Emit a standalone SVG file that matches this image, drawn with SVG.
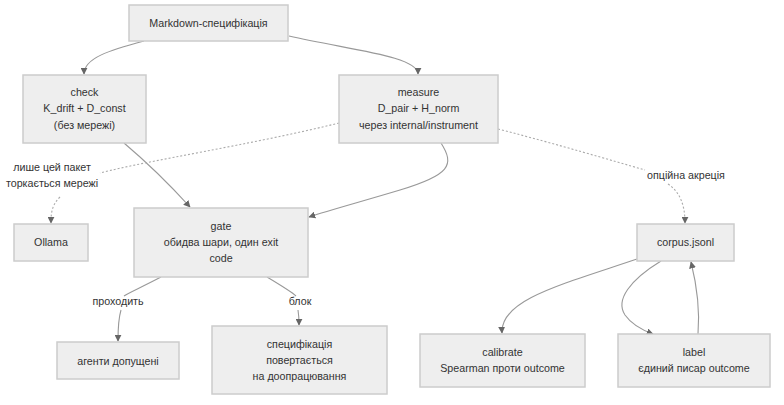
<svg xmlns="http://www.w3.org/2000/svg" width="784" height="405" viewBox="0 0 784 405">
<defs>
<marker id="arr" viewBox="0 0 10 10" refX="9" refY="5" markerWidth="7" markerHeight="7" markerUnits="userSpaceOnUse" orient="auto">
<path d="M0,0 L10,5 L0,10 z" fill="#666"/>
</marker>
</defs>
<style>
.n rect{fill:#eeeeee;stroke:#cccccc;stroke-width:1.5}
text{font-family:"Liberation Sans",Arial,sans-serif;font-size:10.7px;fill:#333;text-anchor:middle}
.e{fill:none;stroke:#999;stroke-width:1.1}
.d{stroke-dasharray:2,2;stroke:#aaa}
</style>
<rect width="784" height="405" fill="#fff"/>
<g id="edges">
<path class="e" d="M144,41 C110,50 84,58 84,74" marker-end="url(#arr)"/>
<path class="e" d="M289,36 C350,50 418,56 418,74" marker-end="url(#arr)"/>
<path class="e" d="M124,143 C150,165 170,185 190,207" marker-end="url(#arr)"/>
<path class="e" d="M441,143 C455,165 450,175 400,190 C360,202 330,210 309,217" marker-end="url(#arr)"/>
<path class="e d" d="M339,123 C250,145 150,160 100,173"/>
<path class="e d" d="M60,197 C52,205 51,212 51,223" marker-end="url(#arr)"/>
<path class="e d" d="M498,129 C560,145 610,160 645,170"/>
<path class="e d" d="M668,184 C680,192 685,205 685,223" marker-end="url(#arr)"/>
<path class="e" d="M161,277 C140,288 128,293 124,296"/>
<path class="e" d="M121,310 C118,320 118,330 118,341" marker-end="url(#arr)"/>
<path class="e" d="M267,277 C282,286 292,292 296,296"/>
<path class="e" d="M298,310 C299,316 299,320 299,325" marker-end="url(#arr)"/>
<path class="e" d="M637,259 C560,285 500,300 502,333" marker-end="url(#arr)"/>
<path class="e" d="M661,261 C630,280 615,300 625,315 C632,325 642,330 653,334" marker-end="url(#arr)"/>
<path class="e" d="M698,334 C700,310 698,290 691,262" marker-end="url(#arr)"/>
<text x="52" y="171">лише цей пакет</text>
<text x="52" y="187">торкається мережі</text>
<text x="686" y="179">опційна акреція</text>
<text x="118" y="305">проходить</text>
<text x="300" y="305">блок</text>
</g>
<g id="spec" class="n"><rect x="129" y="5" width="159" height="36"/><text x="208.5" y="27">Markdown-специфікація</text></g>
<g id="check" class="n"><rect x="23" y="75" width="123" height="68"/><text x="84.5" y="96">check</text><text x="84.5" y="112">K_drift + D_const</text><text x="84.5" y="129">(без мережі)</text></g>
<g id="measure" class="n"><rect x="339" y="75" width="159" height="68"/><text x="418.5" y="96">measure</text><text x="418.5" y="112">D_pair + H_norm</text><text x="418.5" y="129">через internal/instrument</text></g>
<g id="ollama" class="n"><rect x="14" y="224" width="74" height="37"/><text x="51" y="246">Ollama</text></g>
<g id="gate" class="n"><rect x="134" y="208" width="174" height="69"/><text x="221" y="230">gate</text><text x="221" y="246">обидва шари, один exit</text><text x="221" y="262">code</text></g>
<g id="agents" class="n"><rect x="57" y="342" width="122" height="37"/><text x="118" y="365">агенти допущені</text></g>
<g id="rework" class="n"><rect x="212" y="326" width="175" height="68"/><text x="299.5" y="348">специфікація</text><text x="299.5" y="364">повертається</text><text x="299.5" y="380">на доопрацювання</text></g>
<g id="corpus" class="n"><rect x="637" y="224" width="97" height="37"/><text x="685.5" y="246">corpus.jsonl</text></g>
<g id="calibrate" class="n"><rect x="420" y="334" width="165" height="53"/><text x="502.5" y="356">calibrate</text><text x="502.5" y="372">Spearman проти outcome</text></g>
<g id="label" class="n"><rect x="618" y="334" width="152" height="53"/><text x="694" y="356">label</text><text x="694" y="372">єдиний писар outcome</text></g>
</svg>
